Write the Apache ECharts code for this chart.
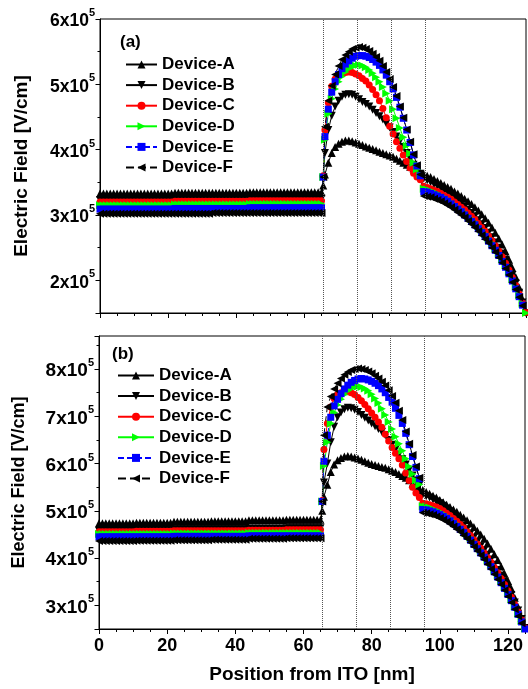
<!DOCTYPE html>
<html>
<head>
<meta charset="utf-8">
<script src="https://cdn.jsdelivr.net/npm/echarts@6/dist/echarts.min.js"></script>
<style>
  html, body { margin: 0; padding: 0; background: #fff; }
  #chart { width: 528px; height: 689px; }
</style>
</head>
<body>
<div id="chart"></div>
<script>
// position from ITO [nm]
const positions = [
  0,1,2,3,4,5,6,7,8,9,10,
  11,12,13,14,15,16,17,18,19,20,21,
  22,23,24,25,26,27,28,29,30,31,32,
  33,34,35,36,37,38,39,40,41,42,43,
  44,45,46,47,48,49,50,51,52,53,54,
  55,56,57,58,59,60,61,62,63,64,65,
  65.5,66,67,68,69,70,71,72,73,74,
  75,76,77,78,79,80,81,82,83,84,
  85,86,87,88,89,90,91,92,93,94,
  95,96,97,98,99,100,101,102,103,104,
  105,106,107,108,109,110,111,112,113,114,
  115,116,117,118,119,120,121,122,123,124,125
];

const deviceNames = ['Device-A','Device-B','Device-C','Device-D','Device-E','Device-F'];
const layerLines = [65.5, 75.5, 85.5, 95.5];

// panel (a), electric field in units of 1e5 V/cm
const topA = [
  3.33,3.33,3.33,3.33,3.33,3.33,3.33,3.33,3.33,3.33,3.33,
  3.33,3.33,3.33,3.33,3.33,3.33,3.33,3.33,3.33,3.33,3.33,
  3.34,3.34,3.34,3.34,3.34,3.34,3.34,3.34,3.34,3.34,3.34,
  3.34,3.34,3.34,3.34,3.34,3.34,3.34,3.34,3.34,3.34,3.34,
  3.35,3.35,3.35,3.35,3.35,3.35,3.35,3.35,3.35,3.35,3.35,
  3.35,3.35,3.35,3.35,3.35,3.35,3.35,3.35,3.35,3.35,3.35,
  3.45,3.62,3.80,3.95,4.04,4.09,4.12,4.14,4.14,4.13,
  4.11,4.09,4.07,4.05,4.03,4.01,3.99,3.97,3.95,3.93,
  3.91,3.89,3.86,3.83,3.80,3.77,3.74,3.71,3.68,3.65,
  3.62,3.60,3.58,3.55,3.52,3.49,3.46,3.43,3.40,3.36,
  3.33,3.29,3.25,3.21,3.17,3.12,3.07,3.01,2.95,2.88,
  2.81,2.73,2.64,2.55,2.44,2.32,2.19,2.05,1.89,1.71,1.52
];
const topB = [
  3.23,3.23,3.23,3.23,3.23,3.23,3.23,3.23,3.23,3.23,3.23,
  3.23,3.23,3.23,3.23,3.23,3.23,3.23,3.23,3.23,3.23,3.23,
  3.24,3.24,3.24,3.24,3.24,3.24,3.24,3.24,3.24,3.24,3.24,
  3.24,3.24,3.24,3.24,3.24,3.24,3.24,3.24,3.24,3.24,3.24,
  3.25,3.25,3.25,3.25,3.25,3.25,3.25,3.25,3.25,3.25,3.25,
  3.25,3.25,3.25,3.25,3.25,3.25,3.25,3.25,3.25,3.25,3.25,
  3.55,3.95,4.30,4.52,4.66,4.75,4.81,4.84,4.85,4.84,
  4.81,4.77,4.73,4.70,4.66,4.61,4.56,4.51,4.46,4.40,
  4.34,4.27,4.20,4.13,4.04,3.95,3.86,3.77,3.69,3.63,
  3.56,3.53,3.50,3.47,3.44,3.41,3.37,3.34,3.30,3.26,
  3.22,3.18,3.13,3.08,3.03,2.98,2.92,2.86,2.80,2.73,
  2.66,2.58,2.50,2.41,2.31,2.20,2.08,1.95,1.81,1.66,1.50
];
const topC = [
  3.20,3.20,3.20,3.20,3.20,3.20,3.20,3.20,3.20,3.20,3.20,
  3.20,3.20,3.20,3.20,3.20,3.20,3.20,3.20,3.20,3.20,3.20,
  3.21,3.21,3.21,3.21,3.21,3.21,3.21,3.21,3.21,3.21,3.21,
  3.21,3.21,3.21,3.21,3.21,3.21,3.21,3.21,3.21,3.21,3.21,
  3.22,3.22,3.22,3.22,3.22,3.22,3.22,3.22,3.22,3.22,3.22,
  3.22,3.22,3.22,3.22,3.22,3.22,3.22,3.22,3.22,3.22,3.22,
  3.60,4.30,4.72,4.97,5.08,5.14,5.17,5.18,5.19,5.18,
  5.16,5.13,5.09,5.05,4.99,4.92,4.84,4.75,4.63,4.49,
  4.36,4.24,4.12,4.02,3.92,3.82,3.72,3.64,3.58,3.54,
  3.44,3.42,3.40,3.38,3.36,3.33,3.30,3.27,3.24,3.20,
  3.16,3.12,3.08,3.03,2.98,2.93,2.87,2.81,2.75,2.68,
  2.61,2.53,2.45,2.36,2.26,2.16,2.04,1.92,1.79,1.65,1.51
];
const topD = [
  3.15,3.15,3.15,3.15,3.15,3.15,3.15,3.15,3.15,3.15,3.15,
  3.15,3.15,3.15,3.15,3.15,3.15,3.15,3.15,3.15,3.15,3.15,
  3.16,3.16,3.16,3.16,3.16,3.16,3.16,3.16,3.16,3.16,3.16,
  3.16,3.16,3.16,3.16,3.16,3.16,3.16,3.16,3.16,3.16,3.16,
  3.17,3.17,3.17,3.17,3.17,3.17,3.17,3.17,3.17,3.17,3.17,
  3.17,3.17,3.17,3.17,3.17,3.17,3.17,3.17,3.17,3.17,3.17,
  3.58,4.15,4.55,4.78,4.93,5.04,5.12,5.19,5.24,5.27,
  5.29,5.30,5.29,5.26,5.22,5.17,5.11,5.04,4.96,4.86,
  4.75,4.62,4.48,4.33,4.19,4.06,3.94,3.80,3.70,3.62,
  3.40,3.39,3.37,3.35,3.33,3.30,3.27,3.24,3.20,3.16,
  3.12,3.08,3.04,2.99,2.94,2.89,2.83,2.77,2.71,2.64,
  2.57,2.49,2.41,2.32,2.23,2.13,2.02,1.90,1.77,1.64,1.50
];
const topE = [
  3.09,3.09,3.09,3.09,3.09,3.09,3.09,3.09,3.09,3.09,3.09,
  3.09,3.09,3.09,3.09,3.09,3.09,3.09,3.09,3.09,3.09,3.09,
  3.10,3.10,3.10,3.10,3.10,3.10,3.10,3.10,3.10,3.10,3.10,
  3.10,3.10,3.10,3.10,3.10,3.10,3.10,3.10,3.10,3.10,3.10,
  3.11,3.11,3.11,3.11,3.11,3.11,3.11,3.11,3.11,3.11,3.11,
  3.11,3.11,3.11,3.11,3.11,3.11,3.11,3.11,3.11,3.11,3.11,
  3.58,4.20,4.62,4.88,5.04,5.15,5.24,5.31,5.36,5.40,
  5.43,5.44,5.44,5.43,5.41,5.38,5.34,5.29,5.22,5.14,
  5.04,4.93,4.80,4.65,4.48,4.30,4.11,3.92,3.75,3.60,
  3.36,3.35,3.33,3.31,3.29,3.27,3.24,3.21,3.17,3.13,
  3.09,3.05,3.00,2.95,2.90,2.85,2.79,2.73,2.67,2.60,
  2.53,2.46,2.38,2.29,2.20,2.10,1.99,1.87,1.75,1.62,1.49
];
const topF = [
  3.02,3.02,3.02,3.02,3.02,3.02,3.02,3.02,3.02,3.02,3.02,
  3.02,3.02,3.02,3.02,3.02,3.02,3.02,3.02,3.02,3.02,3.02,
  3.02,3.02,3.02,3.02,3.02,3.02,3.02,3.02,3.02,3.02,3.02,
  3.03,3.03,3.03,3.03,3.03,3.03,3.03,3.03,3.03,3.03,3.03,
  3.03,3.03,3.03,3.03,3.03,3.03,3.03,3.03,3.03,3.03,3.03,
  3.03,3.03,3.03,3.03,3.03,3.03,3.03,3.03,3.03,3.03,3.03,
  3.58,4.35,4.75,4.98,5.15,5.28,5.38,5.45,5.50,5.54,
  5.56,5.57,5.56,5.54,5.51,5.47,5.42,5.36,5.28,5.19,
  5.08,4.96,4.82,4.66,4.49,4.31,4.12,3.93,3.76,3.62,
  3.29,3.28,3.27,3.25,3.23,3.21,3.18,3.15,3.12,3.08,
  3.04,3.00,2.96,2.91,2.86,2.81,2.75,2.69,2.63,2.57,
  2.50,2.43,2.35,2.27,2.18,2.08,1.97,1.86,1.74,1.61,1.48
];

// panel (b)
const botA = [
  4.74,4.74,4.74,4.74,4.74,4.74,4.74,4.74,4.74,4.74,4.74,
  4.75,4.75,4.75,4.75,4.75,4.75,4.75,4.75,4.75,4.75,4.75,
  4.77,4.77,4.77,4.77,4.77,4.77,4.77,4.77,4.77,4.77,4.77,
  4.78,4.78,4.78,4.78,4.78,4.78,4.78,4.78,4.78,4.78,4.78,
  4.80,4.80,4.80,4.80,4.80,4.80,4.80,4.80,4.80,4.80,4.80,
  4.81,4.81,4.81,4.81,4.81,4.81,4.81,4.81,4.81,4.81,4.81,
  5.00,5.30,5.55,5.82,5.98,6.07,6.12,6.15,6.16,6.15,
  6.13,6.11,6.08,6.05,6.02,5.99,5.97,5.95,5.93,5.91,
  5.88,5.85,5.82,5.78,5.74,5.70,5.65,5.58,5.52,5.46,
  5.44,5.40,5.36,5.32,5.28,5.23,5.18,5.13,5.08,5.03,
  4.98,4.92,4.86,4.80,4.73,4.66,4.58,4.50,4.41,4.31,
  4.20,4.08,3.96,3.82,3.67,3.52,3.35,3.16,2.96,2.74,2.52
];
const botB = [
  4.58,4.58,4.58,4.58,4.58,4.58,4.58,4.58,4.58,4.58,4.58,
  4.59,4.59,4.59,4.59,4.59,4.59,4.59,4.59,4.59,4.59,4.59,
  4.60,4.60,4.60,4.60,4.60,4.60,4.60,4.60,4.60,4.60,4.60,
  4.61,4.61,4.61,4.61,4.61,4.61,4.61,4.61,4.61,4.61,4.61,
  4.62,4.62,4.62,4.62,4.62,4.62,4.62,4.62,4.62,4.62,4.62,
  4.63,4.63,4.63,4.63,4.63,4.63,4.63,4.63,4.63,4.63,4.63,
  5.15,5.60,6.00,6.45,6.78,6.98,7.08,7.15,7.18,7.17,
  7.14,7.09,7.03,6.97,6.91,6.85,6.79,6.73,6.67,6.60,
  6.50,6.40,6.30,6.19,6.09,5.98,5.87,5.75,5.64,5.54,
  5.34,5.31,5.28,5.24,5.20,5.16,5.11,5.05,4.99,4.92,
  4.85,4.77,4.69,4.61,4.52,4.43,4.34,4.25,4.16,4.07,
  3.97,3.86,3.75,3.63,3.50,3.37,3.22,3.06,2.89,2.71,2.52
];
const botC = [
  4.56,4.56,4.56,4.56,4.56,4.56,4.56,4.56,4.56,4.56,4.56,
  4.57,4.57,4.57,4.57,4.57,4.57,4.57,4.57,4.57,4.57,4.57,
  4.58,4.58,4.58,4.58,4.58,4.58,4.58,4.58,4.58,4.58,4.58,
  4.58,4.58,4.58,4.58,4.58,4.58,4.58,4.58,4.58,4.58,4.58,
  4.59,4.59,4.59,4.59,4.59,4.59,4.59,4.59,4.59,4.59,4.59,
  4.60,4.60,4.60,4.60,4.60,4.60,4.60,4.60,4.60,4.60,4.60,
  5.22,6.30,6.85,7.20,7.38,7.46,7.50,7.52,7.52,7.50,
  7.46,7.40,7.33,7.25,7.16,7.07,6.98,6.88,6.77,6.62,
  6.48,6.34,6.22,6.10,5.97,5.80,5.64,5.50,5.38,5.28,
  5.16,5.15,5.13,5.11,5.08,5.05,5.00,4.95,4.90,4.84,
  4.78,4.71,4.64,4.56,4.48,4.39,4.30,4.21,4.11,4.01,
  3.91,3.80,3.69,3.57,3.44,3.31,3.17,3.02,2.86,2.69,2.52
];
const botD = [
  4.51,4.51,4.51,4.51,4.51,4.51,4.51,4.51,4.51,4.51,4.51,
  4.51,4.51,4.51,4.51,4.51,4.51,4.51,4.51,4.51,4.51,4.51,
  4.52,4.52,4.52,4.52,4.52,4.52,4.52,4.52,4.52,4.52,4.52,
  4.52,4.52,4.52,4.52,4.52,4.52,4.52,4.52,4.52,4.52,4.52,
  4.53,4.53,4.53,4.53,4.53,4.53,4.53,4.53,4.53,4.53,4.53,
  4.53,4.53,4.53,4.53,4.53,4.53,4.53,4.53,4.53,4.53,4.53,
  5.20,5.95,6.45,6.85,7.08,7.24,7.36,7.46,7.54,7.59,
  7.62,7.63,7.62,7.59,7.54,7.47,7.38,7.28,7.16,7.03,
  6.88,6.73,6.57,6.42,6.27,6.10,5.94,5.78,5.65,5.56,
  5.10,5.09,5.07,5.04,5.01,4.98,4.94,4.89,4.84,4.78,
  4.72,4.66,4.59,4.51,4.43,4.34,4.25,4.16,4.06,3.96,
  3.86,3.75,3.64,3.52,3.40,3.27,3.13,2.98,2.83,2.67,2.51
];
const botE = [
  4.45,4.45,4.45,4.45,4.45,4.45,4.45,4.45,4.45,4.45,4.45,
  4.45,4.45,4.45,4.45,4.45,4.45,4.45,4.45,4.45,4.45,4.45,
  4.46,4.46,4.46,4.46,4.46,4.46,4.46,4.46,4.46,4.46,4.46,
  4.46,4.46,4.46,4.46,4.46,4.46,4.46,4.46,4.46,4.46,4.46,
  4.47,4.47,4.47,4.47,4.47,4.47,4.47,4.47,4.47,4.47,4.47,
  4.47,4.47,4.47,4.47,4.47,4.47,4.47,4.47,4.47,4.47,4.47,
  5.20,6.05,6.60,6.98,7.22,7.36,7.48,7.58,7.66,7.72,
  7.76,7.79,7.80,7.79,7.77,7.74,7.70,7.65,7.58,7.50,
  7.40,7.30,7.17,7.02,6.85,6.64,6.40,6.15,5.92,5.68,
  5.03,5.02,5.00,4.98,4.95,4.92,4.88,4.84,4.79,4.73,
  4.67,4.61,4.54,4.46,4.38,4.29,4.20,4.11,4.02,3.92,
  3.82,3.71,3.60,3.48,3.36,3.23,3.10,2.96,2.81,2.65,2.50
];
const botF = [
  4.36,4.36,4.36,4.36,4.36,4.36,4.36,4.36,4.36,4.36,4.36,
  4.37,4.37,4.37,4.37,4.37,4.37,4.37,4.37,4.37,4.37,4.37,
  4.38,4.38,4.38,4.38,4.38,4.38,4.38,4.38,4.38,4.38,4.38,
  4.39,4.39,4.39,4.39,4.39,4.39,4.39,4.39,4.39,4.39,4.39,
  4.41,4.41,4.41,4.41,4.41,4.41,4.41,4.41,4.41,4.41,4.41,
  4.42,4.42,4.42,4.42,4.42,4.42,4.42,4.42,4.42,4.42,4.42,
  5.20,6.60,7.20,7.42,7.58,7.70,7.80,7.88,7.94,7.98,
  8.00,8.01,8.00,7.98,7.95,7.91,7.86,7.80,7.73,7.65,
  7.55,7.43,7.29,7.12,6.92,6.68,6.42,6.18,5.94,5.70,
  4.96,4.95,4.93,4.91,4.88,4.85,4.81,4.77,4.72,4.67,
  4.61,4.55,4.48,4.41,4.33,4.24,4.15,4.06,3.97,3.87,
  3.77,3.66,3.55,3.44,3.32,3.19,3.06,2.92,2.77,2.62,2.48
];

const FONT = "'Liberation Sans', Arial, sans-serif";

// marker / line style per device
const styles = [
  { symbol: 'triangle', rot: 0,   size: 8, color: '#000000', dash: 'solid' },
  { symbol: 'triangle', rot: 180, size: 8, color: '#000000', dash: 'solid' },
  { symbol: 'circle',   rot: 0,   size: 7, color: '#ff0000', dash: 'solid' },
  { symbol: 'triangle', rot: -90, size: 8, color: '#00ff00', dash: 'solid' },
  { symbol: 'rect',     rot: 0,   size: 7, color: '#0000ff', dash: [6, 3] },
  { symbol: 'triangle', rot: 90,  size: 8, color: '#000000', dash: [8, 4] }
];

function makeSeries(panel, arrays) {
  return arrays.map((ys, i) => {
    const st = styles[i];
    const s = {
      type: 'line',
      name: deviceNames[i],
      xAxisIndex: panel,
      yAxisIndex: panel,
      data: positions.map((x, k) => [x, ys[k]]),
      symbol: st.symbol,
      symbolRotate: st.rot,
      symbolSize: st.size,
      showAllSymbol: true,
      itemStyle: { color: st.color },
      lineStyle: { color: st.color, width: 1, type: st.dash },
      animation: false
    };
    if (i === 0) {
      s.markLine = {
        silent: true,
        symbol: 'none',
        label: { show: false },
        lineStyle: { type: 'dotted', color: '#555', width: 1 },
        data: layerLines.map(v => ({ xAxis: v }))
      };
    }
    return s;
  });
}

function yAxisFor(panel, min, max, labelSize, nameSize, nameGap) {
  return {
    type: 'value',
    gridIndex: panel,
    min: min,
    max: max,
    splitNumber: 5,
    minInterval: 1,
    maxInterval: 1,
    name: 'Electric Field [V/cm]',
    nameLocation: 'middle',
    nameGap: nameGap,
    nameTextStyle: { fontFamily: FONT, fontWeight: 'bold', fontSize: nameSize, color: '#000' },
    axisLine: { show: true, lineStyle: { color: '#000', width: 1 } },
    axisTick: { show: true, length: 4.5, lineStyle: { color: '#000' } },
    minorTick: { show: true, splitNumber: 2, length: 2.5, lineStyle: { color: '#000' } },
    splitLine: { show: false },
    axisLabel: {
      margin: 5,
      formatter: v => Number.isInteger(v) ? '{m|' + v + 'x10}{s|5}' : '',
      rich: {
        m: { fontFamily: FONT, fontWeight: 'bold', fontSize: labelSize, lineHeight: 23, color: '#000', verticalAlign: 'bottom' },
        s: { fontFamily: FONT, fontWeight: 'bold', fontSize: 11, color: '#000', verticalAlign: 'top' }
      }
    }
  };
}

function xAxisFor(panel, showLabels) {
  return {
    type: 'value',
    gridIndex: panel,
    min: 0,
    max: 125,
    interval: 20,
    name: showLabels ? 'Position from ITO [nm]' : '',
    nameLocation: 'middle',
    nameGap: 36,
    nameTextStyle: { fontFamily: FONT, fontWeight: 'bold', fontSize: 19, color: '#000' },
    axisLine: { show: true, onZero: false, lineStyle: { color: '#000', width: 1 } },
    axisTick: { show: true, length: 5, lineStyle: { color: '#000' } },
    minorTick: { show: true, splitNumber: 4, length: 3, lineStyle: { color: '#000' } },
    splitLine: { show: false },
    axisLabel: {
      show: showLabels,
      margin: 8,
      fontFamily: FONT, fontWeight: 'bold', fontSize: 18, color: '#000',
      formatter: v => (v % 20 === 0 ? String(v) : '')
    }
  };
}

function legendFor(left, top, itemWidth) {
  return {
    orient: 'vertical',
    left: left,
    top: top,
    itemWidth: itemWidth,
    itemHeight: 10,
    itemGap: 3.6,
    data: deviceNames,
    selectedMode: false,
    textStyle: { fontFamily: FONT, fontWeight: 'bold', fontSize: 17, color: '#000', lineHeight: 17 }
  };
}

const chart = echarts.init(document.getElementById('chart'));
chart.setOption({
  backgroundColor: '#fff',
  animation: false,
  grid: [
    { left: 100, top: 19, width: 426, height: 294, show: true, borderColor: '#000', borderWidth: 1 },
    { left: 99, top: 336, width: 427, height: 293, show: true, borderColor: '#000', borderWidth: 1 }
  ],
  xAxis: [xAxisFor(0, false), xAxisFor(1, true)],
  yAxis: [
    yAxisFor(0, 1.5, 6, 17.5, 19, 69),
    yAxisFor(1, 2.5, 8.7, 19, 18, 71)
  ],
  legend: [legendFor(120, 51, 31), legendFor(112, 362, 36)],
  graphic: [
    { type: 'text', left: 120, top: 34, style: { text: '(a)', fontFamily: FONT, fontWeight: 'bold', fontSize: 17, fill: '#000' } },
    { type: 'text', left: 112, top: 346, style: { text: '(b)', fontFamily: FONT, fontWeight: 'bold', fontSize: 17, fill: '#000' } }
  ],
  series: makeSeries(0, [topA, topB, topC, topD, topE, topF])
    .concat(makeSeries(1, [botA, botB, botC, botD, botE, botF]))
});
</script>
</body>
</html>
